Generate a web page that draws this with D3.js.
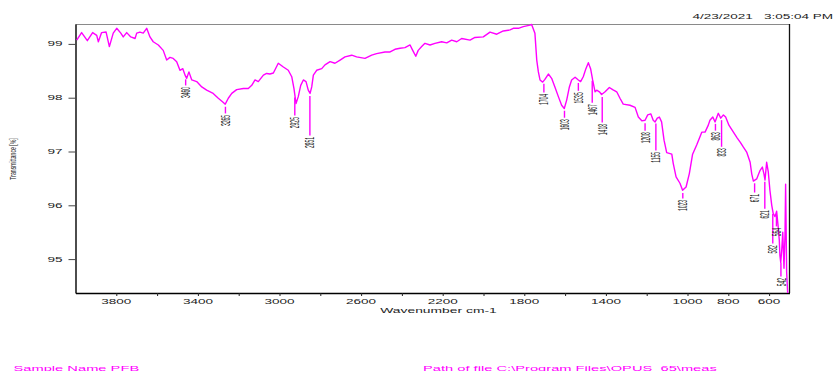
<!DOCTYPE html>
<html>
<head>
<meta charset="utf-8">
<script src="https://cdn.jsdelivr.net/npm/d3@7"></script>
<style>
  body { margin: 0; background: #fff; }
  svg { display: block; }
  text { font-family: "Liberation Sans", Arial, sans-serif; white-space: pre; }
</style>
</head>
<body>
<svg id="chart" width="834" height="371"></svg>
<script>
// FTIR spectrum of sample PFB (OPUS export)
const wavenumbers = [
  3994, 3970, 3942, 3916, 3896, 3888, 3872, 3850, 3834, 3815, 3798, 3778, 3766, 3749, 3729, 3708,
  3700, 3684, 3668, 3651, 3635, 3619, 3594, 3570, 3553, 3537, 3521, 3504, 3488, 3474, 3463, 3455,
  3444, 3430, 3406, 3381, 3357, 3325, 3300, 3278, 3266, 3251, 3234, 3210, 3177, 3153, 3136, 3120,
  3104, 3079, 3063, 3047, 3030, 3006, 2981, 2957, 2940, 2929, 2919, 2908, 2896, 2883, 2870, 2859,
  2850, 2842, 2834, 2818, 2793, 2777, 2752, 2728, 2703, 2679, 2646, 2622, 2581, 2548, 2524, 2483,
  2458, 2434, 2409, 2385, 2360, 2347, 2332, 2320, 2303, 2287, 2262, 2238, 2205, 2180, 2156, 2131,
  2107, 2066, 2042, 2001, 1968, 1935, 1903, 1870, 1854, 1829, 1805, 1772, 1764, 1748, 1739, 1731,
  1723, 1710, 1699, 1682, 1666, 1650, 1633, 1617, 1604, 1592, 1579, 1568, 1551, 1535, 1524, 1511,
  1498, 1486, 1475, 1465, 1453, 1445, 1432, 1421, 1404, 1383, 1367, 1347, 1331, 1315, 1282, 1257,
  1241, 1224, 1208, 1195, 1180, 1168, 1159, 1148, 1138, 1127, 1115, 1102, 1077, 1070, 1056, 1037,
  1024, 1007, 991, 975, 955, 930, 914, 898, 890, 876, 865, 849, 837, 824, 813, 797,
  775, 756, 741, 726, 710, 693, 685, 677, 661, 644, 633, 625, 620, 612, 604, 596,
  587, 580, 571, 563, 555, 550, 547, 543, 538, 533, 530, 527, 522, 519, 514, 509
];
const transmittance = [
  99.07, 99.21, 99.06, 99.21, 99.16, 99.04, 99.21, 99.22, 98.95, 99.20, 99.29, 99.20, 99.13, 99.21, 99.13, 99.10,
  99.20, 99.22, 99.20, 99.29, 99.13, 99.04, 98.98, 98.88, 98.70, 98.75, 98.73, 98.67, 98.51, 98.54, 98.42, 98.36,
  98.48, 98.33, 98.30, 98.20, 98.14, 98.08, 97.99, 97.92, 97.88, 97.99, 98.08, 98.15, 98.17, 98.17, 98.23, 98.33,
  98.30, 98.42, 98.45, 98.44, 98.46, 98.64, 98.57, 98.51, 98.39, 98.17, 97.89, 98.02, 98.23, 98.33, 98.30, 98.14,
  98.08, 98.20, 98.42, 98.51, 98.54, 98.61, 98.67, 98.64, 98.70, 98.76, 98.79, 98.76, 98.73, 98.79, 98.82, 98.85,
  98.85, 98.90, 98.92, 98.93, 98.98, 98.88, 98.77, 98.88, 98.95, 99.01, 98.98, 99.01, 99.04, 99.02, 99.07, 99.04,
  99.10, 99.07, 99.12, 99.13, 99.22, 99.18, 99.24, 99.26, 99.29, 99.29, 99.32, 99.35, 99.36, 99.20, 98.70, 98.48,
  98.33, 98.29, 98.34, 98.44, 98.36, 98.20, 98.02, 97.86, 97.80, 97.96, 98.20, 98.33, 98.38, 98.33, 98.30, 98.39,
  98.54, 98.65, 98.54, 98.33, 98.11, 98.14, 98.11, 98.06, 98.11, 98.19, 98.15, 98.11, 97.99, 97.88, 97.86, 97.82,
  97.64, 97.57, 97.58, 97.68, 97.70, 97.58, 97.55, 97.62, 97.64, 97.55, 97.21, 96.98, 96.95, 96.78, 96.53, 96.41,
  96.28, 96.34, 96.59, 96.95, 97.12, 97.36, 97.36, 97.49, 97.58, 97.64, 97.55, 97.71, 97.62, 97.68, 97.64, 97.49,
  97.36, 97.25, 97.17, 97.08, 96.99, 96.80, 96.58, 96.45, 96.49, 96.65, 96.71, 96.58, 96.47, 96.80, 96.62, 96.28,
  96.00, 95.85, 95.79, 95.89, 95.58, 95.35, 95.07, 94.94, 95.17, 95.50, 95.17, 94.83, 95.46, 96.39, 94.76, 94.37
];

// Peak picks: label text, position (cm-1) and the transmittance level where the label begins
const peakLabels = ["3460", "3265", "2925", "2851", "1704", "1603", "1535", "1467", "1418", "1208",
                    "1155", "1023", "863", "833", "671", "621", "564", "582", "542"];
const peakWavenumbers = [3460, 3265, 2925, 2851, 1704, 1603, 1535, 1467, 1418, 1208,
                         1155, 1023, 863, 833, 671, 621, 564, 582, 542];
const peakLabelLevels = [98.20, 97.68, 97.64, 97.27, 98.07, 97.60, 98.10, 97.88, 97.51, 97.36,
                         96.99, 96.10, 97.36, 97.06, 96.21, 95.91, 95.58, 95.26, 94.65];

const yTicks = [95, 96, 97, 98, 99];
const xTicks = [3800, 3600, 3400, 3200, 3000, 2800, 2600, 2400, 2200, 2000, 1800, 1600, 1400, 1200, 1000, 800, 600];
const xTickLabels = ["3800", "3400", "3000", "2600", "2200", "1800", "1400", "1000", "800", "600"];

const xTitle = "Wavenumber cm-1";
const yTitle = "Transmittance [%]";
const stampText = "4/23/2021   3:05:04 PM";
const sampleText = "Sample Name PFB";
const pathText = "Path of file C:\\Program Files\\OPUS_65\\meas";

const svg = d3.select("#chart");
const plotLeft = 75.5, plotRight = 789.5, plotTop = 24, plotBottom = 293;

const x = d3.scaleLinear().domain([4000, 500]).range([plotLeft, plotRight]);
const y = d3.scaleLinear().domain([94.37, 99.37]).range([plotBottom, plotTop]);

const curveColor = "#ff00ff";
const inkColor = "#222";

// Wide, short lettering of the OPUS printout
function wideText(sel, size, sx, rot) {
  return sel.attr("font-size", size)
    .each(function () {
      const t = d3.select(this);
      const px = +t.attr("data-px"), py = +t.attr("data-py");
      t.attr("transform", `translate(${px},${py}) scale(${sx},1)` + (rot ? ` rotate(${rot})` : ""));
    });
}

// Frame: grey top edge, dark right edge
svg.append("line").attr("x1", plotLeft).attr("x2", plotRight).attr("y1", plotTop + 0.5).attr("y2", plotTop + 0.5)
  .attr("stroke", "#8a8a8a").attr("stroke-width", 1);
svg.append("line").attr("x1", plotRight).attr("x2", plotRight).attr("y1", plotTop).attr("y2", plotBottom)
  .attr("stroke", "#111").attr("stroke-width", 1.3);

// Y axis
const yAxis = d3.axisLeft(y).tickValues(yTicks).tickSize(7).tickSizeOuter(0).tickFormat("");
const gy = svg.append("g").attr("transform", `translate(${plotLeft},0)`).call(yAxis);
gy.select(".domain").attr("stroke", "#000").attr("stroke-width", 1.4);
gy.selectAll(".tick line").attr("stroke", "#444").attr("stroke-width", 1);
svg.append("g").selectAll("text").data(yTicks).join("text")
  .attr("data-px", plotLeft - 13).attr("data-py", d => y(d))
  .attr("text-anchor", "end").attr("dominant-baseline", "central")
  .attr("fill", inkColor).text(d => d3.format("d")(d))
  .call(wideText, 6.6, 2.05);

// X axis
const xAxis = d3.axisBottom(x).tickValues(xTicks).tickSize(3).tickSizeOuter(0).tickFormat("");
const gx = svg.append("g").attr("transform", `translate(0,${plotBottom})`).call(xAxis);
gx.select(".domain").attr("stroke", "#000").attr("stroke-width", 1.4);
gx.selectAll(".tick line").attr("stroke", "#222").attr("stroke-width", 1);
svg.append("g").selectAll("text").data(xTickLabels).join("text")
  .attr("data-px", d => x(+d)).attr("data-py", 304)
  .attr("text-anchor", "middle").attr("fill", inkColor).text(d => d)
  .call(wideText, 6.6, 2.05);

svg.append("text").attr("data-px", (plotLeft + plotRight) / 2 + 6).attr("data-py", 313)
  .attr("text-anchor", "middle").attr("fill", inkColor).text(xTitle)
  .call(wideText, 6.6, 2.1);

svg.append("text").attr("data-px", 12.5).attr("data-py", 159)
  .attr("text-anchor", "middle").attr("dominant-baseline", "central")
  .attr("fill", inkColor).text(yTitle)
  .call(wideText, 5.2, 1.9, -90);

// Spectrum
const pts = wavenumbers.map((w, i) => [w, transmittance[i]]);
const line = d3.line().x(d => x(d[0])).y(d => y(d[1]));
svg.append("path").datum(pts).attr("d", line)
  .attr("fill", "none").attr("stroke", curveColor).attr("stroke-width", 1.4)
  .attr("stroke-linejoin", "round");

// Peak markers and labels
const interpT = w => {
  for (let i = 0; i < wavenumbers.length - 1; i++) {
    const a = wavenumbers[i], b = wavenumbers[i + 1];
    if (w <= a && w >= b) {
      const t = (a - w) / (a - b);
      return transmittance[i] + t * (transmittance[i + 1] - transmittance[i]);
    }
  }
  return transmittance[transmittance.length - 1];
};
const peaks = peakLabels.map((lab, i) => ({ lab, w: peakWavenumbers[i], level: peakLabelLevels[i] }));
const gp = svg.append("g");
gp.selectAll("line").data(peaks).join("line")
  .attr("x1", d => x(d.w)).attr("x2", d => x(d.w))
  .attr("y1", d => Math.min(y(interpT(d.w)) + 3, y(d.level) - 4))
  .attr("y2", d => y(d.level) - 1.5)
  .attr("stroke", curveColor).attr("stroke-width", 1.4);
gp.selectAll("text").data(peaks).join("text")
  .attr("data-px", d => x(d.w)).attr("data-py", d => y(d.level))
  .attr("text-anchor", "end").attr("dominant-baseline", "central")
  .attr("fill", inkColor).text(d => d.lab)
  .call(wideText, 5.0, 2.5, -90);

// Header and footer
svg.append("text").attr("data-px", 833).attr("data-py", 18.5)
  .attr("text-anchor", "end").attr("fill", inkColor).text(stampText)
  .call(wideText, 6.6, 2.05);
svg.append("text").attr("data-px", 13.5).attr("data-py", 370.5)
  .attr("fill", curveColor).text(sampleText)
  .call(wideText, 7, 2.1);
svg.append("text").attr("data-px", 423).attr("data-py", 370.5)
  .attr("fill", curveColor).text(pathText)
  .call(wideText, 7, 2.1);
</script>
</body>
</html>
